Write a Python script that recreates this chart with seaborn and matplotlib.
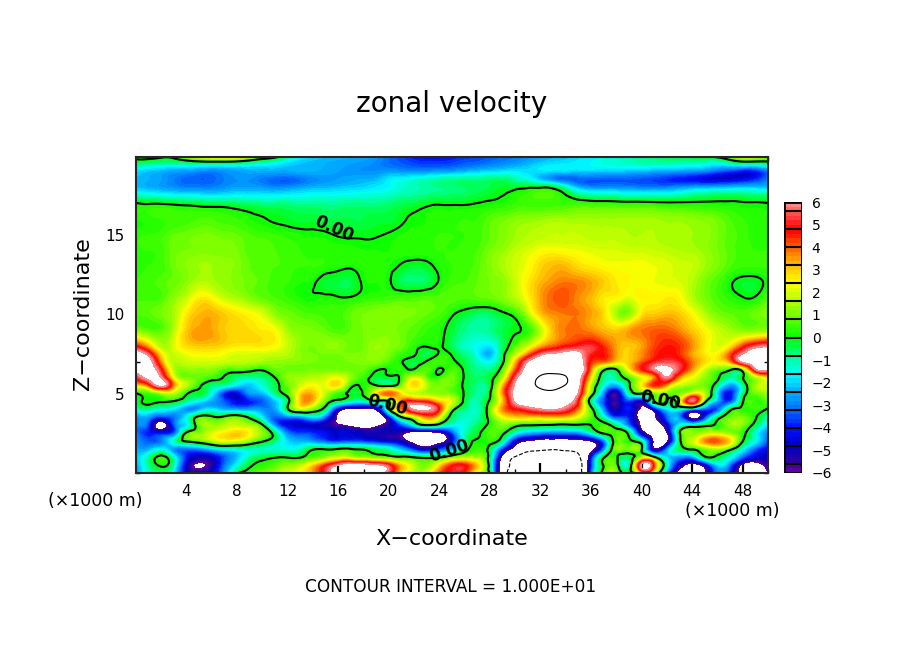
import numpy as np
import matplotlib
matplotlib.use("Agg")
import matplotlib.pyplot as plt
import matplotlib.tri as mtri
from matplotlib.colors import LinearSegmentedColormap
from matplotlib.ticker import MultipleLocator
import seaborn as sns

# values, x in km, z in km
x_km = list(range(0, 51))
z_km = [0, 0.5, 1, 1.5, 2, 2.5, 3, 3.5, 4, 4.5, 5, 5.5, 6, 6.5, 7, 7.5, 8,
        9, 10, 11, 12, 13, 14, 15, 16, 17, 18, 18.5, 19, 19.5, 19.9]

u_rows = [
    [-2.8,-1.0,-0.8,-1.6,-4.6,-5.0,-4.6,-2.8,-0.2,0.4, 0.9,1.4,2.0,2.4,3.4,5.0,7.0,8.0,8.0,7.0, 5.0,2.6,1.6,1.8,4.0,4.8,4.4,2.0,0.0,-8.0, -11.6,-14,-14,-14,-14,-12.4,-3.6,0.5,0.8,-0.6, 2.2,2.0,-3.0,-7.0,-7.4,-6.4,-3.0,-4.0,-7.0,-7.4,-6.0],
    [-2.6,-0.9,0.2,-1.2,-4.8,-6.2,-5.4,-3.2,-1.6,-0.2, 0.3,0.7,1.2,1.6,2.8,4.4,6.0,7.0,6.8,6.2, 5.0,3.0,1.6,1.0,2.6,4.4,4.6,3.0,-0.6,-7.6, -11.0,-13,-14,-14,-13.5,-12,-4.0,0.1,0.4,-1.0, 6.2,4.2,-1.2,-5.0,-6.6,-5.0,-2.0,-3.2,-6.4,-6.8,-5.4],
    [-2.2,-1.0,0.3,-1.4,-4.0,-5.0,-4.8,-3.4,-2.2,-1.0, -0.4,-0.1,-0.1,-0.1,0.6,1.2,1.8,1.6,1.2,0.8, 0.5,0.2,-0.1,-0.4,-0.2,0.8,1.4,1.4,-0.6,-6.6, -10.2,-12,-13,-13,-12.4,-10.6,-4.6,-0.2,0.2,-0.6, 1.6,0.2,-2.0,-2.8,-2.8,-0.2,-0.3,-1.4,-3.4,-4.6,-4.8],
    [-2.4,-2.4,-1.6,-2.8,-3.2,-3.0,-2.2,-1.6,-1.4,-1.2, -1.2,-1.3,-1.4,-1.2,-0.1,-0.05,0.1,0.1,-0.1,-0.6, -1.2,-2.4,-4.0,-5.0,-3.8,-2.4,-0.4,0.4,-0.4,-4.0, -7.0,-9.0,-9.4,-9.8,-9.4,-9.0,-6.8,-3.0,1.0,0.9, 0.1,-5.6,-3.0,-0.5,0.1,0.9,1.4,0.3,-1.6,-3.4,-4.4],
    [-2.8,-3.4,-3.0,-1.2,0.1,0.6,1.4,2.0,1.8,1.0, 0.1,-0.8,-2.0,-2.4,-2.8,-3.4,-3.8,-3.6,-3.8,-4.2, -4.6,-5.2,-6.8,-7.4,-6.8,-4.4,-1.0,0.1,0.3,-1.0, -4.8,-6.2,-6.8,-7.0,-7.0,-6.8,-6.0,-3.2,0.6,0.2, -1.0,-6.6,-6.4,-0.4,1.8,3.6,4.0,2.8,0.0,-1.6,-3.6],
    [-3.0,-4.0,-4.2,-3.4,0.3,1.2,2.0,2.6,3.0,2.4, 1.2,-0.6,-3.0,-3.6,-3.8,-4.2,-4.6,-4.6,-5.0,-5.0, -5.2,-5.6,-6.8,-7.0,-6.4,-3.8,-1.2,-0.2,0.6,0.2, -1.6,-2.6,-3.0,-3.2,-3.2,-3.0,-1.6,0.1,0.6,-0.4, -5.0,-7.0,-6.2,-0.1,1.2,1.6,1.8,1.2,0.3,-1.4,-3.0],
    [-3.2,-3.8,-7.0,-3.6,-1.8,0.8,1.4,1.6,1.8,1.5, 0.2,-2.8,-4.4,-4.8,-4.8,-5.2,-5.8,-6.4,-7.0,-6.4, -5.2,-3.6,-1.6,-0.2,-0.8,-1.6,-1.4,-0.6,0.3,1.0, 0.3,0.0,-0.1,-0.2,-0.3,-0.2,0.0,0.5,-0.8,-3.2, -6.4,-7.2,-5.0,-1.6,-1.0,-0.3,0.2,1.2,1.0,-0.5,-2.0],
    [-3.0,-2.8,-4.0,-3.2,-1.6,0.5,0.3,0.4,0.8,-0.2, -1.8,-3.4,-3.2,-3.0,-2.0,-3.4,-6.4,-8.0,-8.4,-7.6, -4.6,-0.2,1.5,3.5,2.2,-0.5,-1.2,-1.0,0.4,2.2, 2.8,2.8,2.8,3.0,2.8,2.0,0.6,-1.2,-3.6,-4.0, -7.0,-6.4,-3.4,-2.8,-6.6,-4.0,-0.6,0.8,1.0,0.1,-1.2],
    [-1.4,-1.0,-1.6,-2.0,-2.8,-2.4,-1.8,-2.4,-2.6,-2.6, -2.8,-2.6,-0.2,1.6,0.8,-0.8,-5.0,-6.4,-6.6,-5.8, -0.4,3.6,6.0,6.2,4.5,0.5,-0.8,-1.2,0.8,3.6, 4.6,5.2,5.8,6.0,5.4,3.6,0.5,-2.8,-5.2,-4.0, -6.6,-5.0,-2.0,-1.6,-3.0,-3.6,-3.4,-0.3,0.3,0.4,-0.2],
    [-0.5,0.2,0.05,-0.1,-1.0,-1.8,-2.6,-3.4,-4.4,-4.0, -3.4,-2.2,-0.4,3.0,3.0,0.7,-0.5,-1.4,-1.6,-0.5, 0.0,3.8,4.8,4.4,3.0,2.0,-0.3,-1.0,0.2,3.0, 6.2,7.4,7.6,7.6,6.6,4.6,-0.8,-3.6,-5.6,-3.8, -5.0,-0.1,-0.2,1.5,5.6,0.5,-2.6,-3.6,-0.1,0.4,0.8],
    [-0.1,0.4,1.2,1.5,0.1,-0.3,-1.6,-4.0,-4.6,-2.8, -2.4,-0.8,0.5,2.8,3.2,1.6,0.4,-0.2,0.1,2.5, 4.0,2.6,1.8,1.4,1.2,0.9,-0.1,-0.9,-0.1,3.5, 6.6,8.4,9.0,9.2,8.2,5.8,0.8,-3.0,-5.6,-1.2, 0.0,0.8,1.0,1.0,2.4,1.6,-2.0,-4.2,-0.8,0.8,1.4],
    [2.5,3.8,6.4,3.5,1.6,0.2,-0.8,-1.2,-2.0,-2.2, -1.4,-0.4,0.8,1.8,2.4,2.2,2.6,0.3,0.2,0.1, -0.2,1.0,2.8,1.6,1.0,0.8,-0.2,-0.8,-0.4,3.0, 6.2,8.6,10.6,11.0,9.8,6.6,1.5,-1.5,-2.6,-0.2, 2.4,4.4,3.2,1.6,1.2,0.9,-0.8,-2.8,-1.0,1.4,2.0],
    [4.8,6.5,6.0,2.2,1.0,0.8,0.4,-0.1,-0.8,-1.0, -0.8,0.0,1.2,1.4,1.6,1.8,2.2,1.2,0.4,-0.4, -0.3,0.3,2.0,0.8,0.4,0.9,-0.1,-0.6,-0.3,1.6, 5.4,8.0,10.5,11.0,10.2,7.0,2.5,-0.8,-0.8,0.5, 2.0,3.6,5.8,3.4,2.2,1.2,0.2,-1.0,-0.05,1.4,2.8],
    [6.5,7.0,4.8,1.6,1.2,1.2,1.2,0.6,0.5,0.3, 0.1,0.8,0.9,0.9,1.0,1.0,1.0,0.9,0.8,0.1, 0.1,0.2,0.1,0.7,-0.1,0.6,-0.2,-0.8,-0.8,0.6, 4.0,7.0,8.5,9.0,8.8,7.6,3.6,0.2,-0.1,2.4, 4.4,5.8,6.6,5.2,3.4,1.8,0.8,0.1,0.7,5.5,6.0],
    [7.5,6.8,3.5,1.6,1.8,1.9,1.9,1.8,1.7,1.6, 1.4,1.3,1.2,1.1,1.0,0.9,0.9,1.0,1.1,1.1, 0.6,0.05,-0.4,0.1,0.5,0.2,-0.4,-1.2,-1.6,-0.2, 3.0,6.0,7.4,8.0,7.8,7.0,4.5,3.8,2.8,3.0, 4.0,5.0,5.4,5.0,3.8,2.8,2.4,3.4,6.2,7.0,7.0],
    [7.0,5.4,2.6,1.8,2.2,2.4,2.4,2.2,2.0,2.0, 1.9,1.8,1.6,1.2,1.0,1.0,1.0,1.0,1.1,1.3, 1.0,0.4,0.1,-0.5,0.1,-0.1,-0.8,-1.6,-2.4,-0.4, 1.5,3.6,5.5,6.2,6.6,6.4,5.0,4.6,3.4,3.0, 3.6,4.4,4.8,4.4,3.4,2.6,2.4,4.0,6.0,7.0,7.0],
    [4.6,3.2,1.5,2.0,2.8,3.0,3.0,2.8,2.6,2.6, 2.6,2.4,1.8,1.2,1.0,1.2,1.2,0.9,1.0,1.4, 1.2,0.9,0.3,0.05,0.1,-0.5,-1.2,-1.6,-1.8,-0.6, 0.6,1.8,3.2,4.0,4.6,5.0,5.2,4.4,3.4,3.0, 3.4,4.2,4.6,4.4,3.6,2.6,2.0,2.6,4.2,5.4,5.8],
    [1.0,0.7,0.7,1.6,3.0,3.5,3.4,3.0,2.9,2.8, 2.6,2.3,1.4,1.1,1.0,0.8,0.6,0.8,1.0,1.0, 1.1,0.9,0.7,0.4,0.2,-0.3,-0.8,-1.0,-0.8,-0.4, -0.1,0.3,1.6,3.2,3.8,3.9,3.6,3.2,3.0,3.4, 3.8,4.0,4.0,3.6,3.0,2.4,1.8,1.4,1.1,1.1,1.3],
    [0.6,0.7,1.0,1.5,2.6,3.2,3.3,3.0,2.7,2.4, 2.0,1.2,0.9,0.7,0.6,0.5,0.5,0.8,1.0,1.1, 1.2,1.1,1.0,0.8,0.6,0.1,-0.3,-0.6,-0.6,-0.2, 0.3,1.5,3.0,3.6,3.8,3.8,3.4,2.8,1.4,1.2, 2.6,3.0,3.2,3.0,2.4,1.6,1.0,0.8,0.7,0.9,1.1],
    [0.5,0.5,0.6,1.2,1.8,2.6,2.4,1.8,1.5,1.1, 0.8,0.6,0.4,0.2,0.1,0.2,0.1,0.1,0.3,0.4, 0.5,0.6,0.6,0.7,0.7,0.7,0.6,0.7,0.8,1.1, 1.6,2.4,3.4,4.0,4.1,3.6,3.2,2.6,2.4,2.0, 2.5,2.5,2.6,2.4,1.6,1.0,0.6,0.3,0.05,0.1,0.7],
    [0.4,0.5,0.7,0.9,1.2,1.6,1.5,1.3,1.1,0.9, 0.7,0.5,0.4,0.2,0.1,-0.3,-0.4,-0.4,0.1,0.2, 0.1,-0.5,-0.6,-0.5,0.1,0.5,0.6,0.8,1.0,1.2, 1.8,2.6,3.2,3.6,3.8,3.7,3.4,3.0,2.6,2.4, 2.3,2.2,2.1,2.0,1.6,1.0,0.6,0.1,-0.2,-0.2,0.2],
    [0.3,0.4,0.5,0.9,1.2,1.4,1.4,1.3,1.1,0.8, 0.7,0.6,0.5,0.4,0.4,0.3,0.2,0.1,0.3,0.3, 0.2,-0.1,-0.3,-0.2,0.2,0.4,0.5,0.7,1.1,1.5, 1.9,2.3,2.9,3.2,3.2,2.8,2.6,2.4,2.3,2.3, 2.3,2.2,2.1,1.9,1.8,1.4,1.0,0.6,0.4,0.4,0.4],
    [0.3,0.4,0.5,0.9,1.0,1.1,1.1,1.1,1.0,0.7, 0.7,0.6,0.5,0.4,0.3,0.3,0.3,0.3,0.2,0.2, 0.2,0.3,0.3,0.3,0.4,0.4,0.5,0.6,1.0,1.3, 1.7,2.0,2.3,2.4,2.3,2.2,2.1,2.0,2.0,1.9, 1.9,1.8,1.7,1.6,1.5,1.3,1.0,0.7,0.5,0.4,0.4],
    [0.3,0.4,0.5,0.8,0.9,1.0,1.0,0.9,0.8,0.6, 0.5,0.4,0.3,0.2,0.15,0.1,-0.05,-0.1,-0.1,-0.05, 0.05,0.2,0.3,0.3,0.4,0.4,0.4,0.5,0.8,1.1, 1.4,1.6,1.7,1.8,1.8,1.8,1.7,1.7,1.7,1.6, 1.6,1.6,1.5,1.5,1.4,1.3,1.0,0.7,0.5,0.3,0.3],
    [0.2,0.3,0.4,0.5,0.5,0.6,0.6,0.5,0.4,0.2, 0.05,-0.1,-0.2,-0.3,-0.3,-0.4,-0.4,-0.4,-0.4,-0.3, -0.3,-0.1,0.1,0.2,0.3,0.3,0.4,0.4,0.7,0.9, 1.1,1.2,1.3,1.4,1.4,1.4,1.4,1.4,1.4,1.4, 1.4,1.4,1.3,1.3,1.2,1.1,0.9,0.6,0.4,0.3,0.2],
    [0.0,-0.1,-0.1,-0.2,-0.3,-0.4,-0.5,-0.5,-0.6,-0.7, -0.8,-0.8,-0.8,-0.9,-0.9,-0.9,-0.9,-0.8,-0.8,-0.8, -0.7,-0.5,-0.4,-0.2,-0.1,-0.1,-0.1,0.0,0.1,0.2, 0.4,0.5,0.5,0.5,0.4,0.4,0.3,0.3,0.25,0.2, 0.2,0.15,0.1,0.1,0.1,0.1,0.1,0.1,0.05,0.05,0.0],
    [-2.2,-2.4,-2.6,-2.8,-3.0,-3.0,-3.0,-2.8,-2.6,-2.6, -2.7,-2.9,-2.8,-2.6,-2.4,-2.3,-2.2,-2.1,-2.0,-1.8, -1.6,-1.3,-1.1,-0.9,-0.8,-0.7,-0.6,-0.5,-0.4,-0.2, -0.2,-0.1,-0.1,-0.3,-1.2,-2.4,-2.8,-2.8,-2.8,-2.9, -3.0,-3.0,-3.0,-2.8,-2.6,-2.5,-2.4,-2.3,-2.2,-2.2,-2.2],
    [-2.2,-2.4,-2.6,-3.0,-3.3,-3.4,-3.3,-3.0,-2.8,-2.8, -3.1,-3.3,-3.4,-3.2,-2.9,-2.7,-2.6,-2.5,-2.4,-2.3, -1.8,-1.6,-1.4,-1.2,-1.0,-0.9,-0.8,-0.8,-0.7,-0.6, -1.0,-1.4,-2.2,-2.9,-3.3,-3.4,-3.4,-3.4,-3.4,-3.4, -3.5,-3.6,-3.8,-4.0,-4.2,-4.5,-4.6,-4.6,-4.4,-3.9,-3.0],
    [-2.0,-2.2,-2.4,-2.6,-2.7,-2.9,-3.0,-2.8,-2.6,-2.5, -2.5,-2.5,-2.5,-2.4,-2.4,-2.5,-2.6,-2.7,-2.8,-2.8, -2.7,-2.8,-2.8,-2.8,-2.7,-2.6,-2.4,-2.2,-2.0,-1.9, -1.8,-1.9,-1.9,-2.0,-2.0,-2.1,-2.1,-2.2,-2.2,-2.3, -2.4,-2.5,-2.6,-2.7,-2.8,-3.0,-3.4,-3.8,-4.2,-4.0,-3.0],
    [-0.6,-0.8,-1.0,-1.0,-0.9,-0.8,-0.8,-0.8,-0.9,-1.1, -1.4,-1.6,-2.0,-2.2,-2.3,-2.4,-2.5,-2.6,-2.7,-2.9, -3.2,-3.4,-3.6,-3.7,-3.7,-3.6,-3.4,-3.3,-3.1,-2.9, -2.7,-2.4,-2.1,-1.9,-1.8,-1.7,-1.6,-1.4,-1.3,-1.2, -1.1,-1.1,-1.1,-1.2,-1.3,-1.4,-1.6,-1.2,-0.8,-0.8,-0.6],
    [0.2,0.3,0.1,0.2,1.2,2.0,2.6,2.8,2.6,1.6, 0.8,0.2,-0.8,-1.6,-2.0,-2.2,-2.3,-2.4,-2.5,-2.7, -3.2,-3.6,-4.0,-4.2,-4.2,-4.0,-3.8,-3.6,-3.4,-3.2, -3.0,-2.8,-2.5,-2.3,-2.1,-1.9,-1.7,-1.5,-1.3,-1.1, -0.9,-0.7,-0.5,-0.3,-0.2,-0.1,0.1,1.0,1.8,1.6,1.0],
]

color_values = [-6, -5.6, -4.8, -4.0, -3.2, -2.4, -1.6, -0.8, 0, 0.8, 1.6, 2.4, 3.2, 4.0, 4.8, 5.6, 6]
color_list = ["#7000a0", "#3000a0", "#0000c0", "#0010ff", "#0070ff", "#00b0ff", "#00ffff",
              "#00ff90", "#00ff00", "#60ff00", "#b0ff00", "#ffff00", "#ffc000", "#ff6000",
              "#ff0000", "#ff5555", "#ff9999"]

W, H = 904, 654

sns.set_theme(style="ticks", rc={"axes.linewidth": 1.5, "xtick.color": "black", "ytick.color": "black"})
plt.rcParams["font.family"] = ["DejaVu Sans"]

cmap = LinearSegmentedColormap.from_list(
    "ncar_like", [((v + 6) / 12, c) for v, c in zip(color_values, color_list)], N=256)

u = np.array(u_rows)
levels = np.linspace(-6, 6, 61)

fig = plt.figure(figsize=(W / 100, H / 100), dpi=100, facecolor="white")
ax = fig.add_axes([136 / W, 1 - 473 / H, (768 - 136) / W, (473 - 157) / H])

# the grid is coarse, so let matplotlib's refiner round off the contours
xx, zz = np.meshgrid(x_km, z_km)
triang = mtri.Triangulation(xx.ravel(), zz.ravel())
fine_tri, fine_u = mtri.UniformTriRefiner(triang).refine_field(u.ravel(), subdiv=3)

ax.tricontourf(fine_tri, fine_u, levels=levels, cmap=cmap, vmin=-6, vmax=6, antialiased=False)
ax.tricontour(fine_tri, fine_u, levels=[0], colors="black", linewidths=1.5)
ax.tricontour(fine_tri, fine_u, levels=[-10, 10], colors="black", linewidths=0.8)

ax.set_xlim(0, 50)
ax.set_ylim(0, 19.9)
ax.xaxis.set_major_locator(MultipleLocator(4))
ax.xaxis.set_minor_locator(MultipleLocator(2))
ax.yaxis.set_major_locator(MultipleLocator(5))
ax.yaxis.set_minor_locator(MultipleLocator(1))
ax.tick_params(which="major", direction="in", length=7, width=1.6, top=True, right=True, labelsize=11, pad=8)
ax.tick_params(which="minor", direction="in", length=3, width=1, top=True, right=True)
ax.set_yticks([5, 10, 15])
ax.set_xticks(list(range(4, 49, 4)))

# labels along the zero line
for lx, lz, rot in [(15.7, 15.4, -24), (19.9, 4.3, -14), (24.8, 1.4, 18), (41.5, 4.6, -12)]:
    ax.text(lx, lz, "0.00", fontsize=12, fontweight="bold", rotation=rot, ha="center", va="center", color="black")

# colour bar, drawn as a one column heatmap
cax = fig.add_axes([784 / W, 1 - 473 / H, 18 / W, (473 - 202) / H])
mids = (levels[:-1] + levels[1:]) / 2
sns.heatmap(mids[::-1].reshape(-1, 1), ax=cax, cmap=cmap, vmin=-6, vmax=6, cbar=False, xticklabels=False)
n = len(mids)
for k in range(-7, 8):
    cax.axhline((6 - k * 0.8) / 12 * n, color="black", lw=1.5)
cax.axhline(0, color="black", lw=2)
cax.axhline(n, color="black", lw=2)
cax.axvline(0, color="black", lw=2)
cax.axvline(1, color="black", lw=2)
bar_labels = list(range(-6, 7))
cax.yaxis.tick_right()
cax.set_yticks([(6 - v) / 12 * n for v in bar_labels])
cax.set_yticklabels([str(v).replace("-", "\u2212") for v in bar_labels], rotation=0, ha="left", fontsize=10)
cax.tick_params(axis="y", length=0, pad=7)


def put(px, py, s, **kw):
    fig.text(px / W, 1 - py / H, s, ha="center", va="center", color="black", **kw)


put(452, 104, "zonal velocity", fontsize=20)
put(452, 539, "X\u2212coordinate", fontsize=16)
put(83, 314, "Z\u2212coordinate", fontsize=16, rotation=90)
put(451, 587, "CONTOUR INTERVAL = 1.000E+01", fontsize=12.2)
put(95, 501, "(\u00d71000 m)", fontsize=12.5)
put(732, 511, "(\u00d71000 m)", fontsize=12.5)

fig.savefig("out.png", dpi=100)
